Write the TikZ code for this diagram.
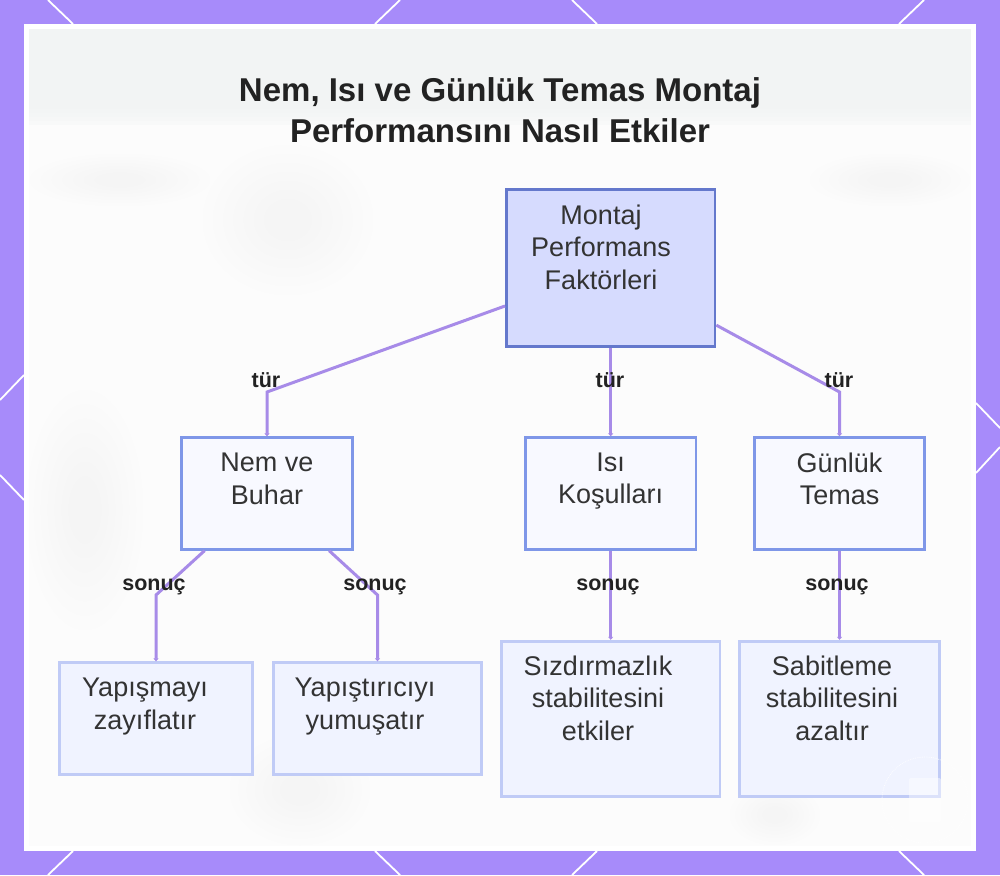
\documentclass[tikz,border=0pt]{standalone}
\usepackage{fontspec}
\setmainfont{Liberation Sans}
\usepackage{xcolor}
\usetikzlibrary{arrows.meta}
\definecolor{Frame}{HTML}{A78BFA}
\definecolor{Panel}{HTML}{FCFCFC}
\definecolor{Band}{HTML}{F2F4F4}
\definecolor{Smudge}{HTML}{EEEEE8}
\definecolor{Ink}{HTML}{222222}
\definecolor{BodyInk}{HTML}{333333}
\definecolor{Edge}{HTML}{A78BE8}
\definecolor{RootFill}{HTML}{D6DBFE}
\definecolor{RootLine}{HTML}{6478CC}
\definecolor{TypeFill}{HTML}{F8F9FF}
\definecolor{TypeLine}{HTML}{7F97E8}
\definecolor{ResultFill}{HTML}{F0F3FF}
\definecolor{ResultLine}{HTML}{C0CBF6}
\tikzset{
  rootbox/.style={draw=RootLine,fill=RootFill,line width=2.8pt,inner sep=0pt,minimum width=208.5pt,minimum height=156.5pt},
  typebox/.style={draw=TypeLine,fill=TypeFill,line width=2.8pt,inner sep=0pt,minimum width=170.5pt,minimum height=111.5pt},
  resultbox/.style={draw=ResultLine,fill=ResultFill,line width=2.8pt,inner sep=0pt,minimum height=111.5pt},
  boxtext/.style={text=BodyInk,align=center,inner sep=0pt,font=\fontsize{27}{32.5}\selectfont},
  edgelabel/.style={text=Ink,inner sep=0pt,font=\fontsize{21.5}{24}\selectfont\bfseries},
  edgeline/.style={draw=Edge,line width=3pt,-{Triangle[width=5pt,length=3pt]}},
  trim/.style={draw=white,line width=1.8pt}
}
\newcommand{\smudgeat}[3]{%
  \foreach \s in {1,0.88,0.76,0.64,0.52,0.4,0.28}
    \fill[Smudge,opacity=0.045] (#1) ellipse ({#2*\s} and {#3*\s});}
\begin{document}
\begin{tikzpicture}[x=1pt,y=-1pt]
  \useasboundingbox (0,0) rectangle (1000,875);
  % Frame and its white strokes
  \fill[Frame] (0,0) rectangle (1000,875);
  \foreach \xa/\ya/\xb/\yb in {48/0/73/24,400/0/375/24,572/0/597/24,924/0/899/24,
      48/875/73/851,400/875/375/851,572/875/597/851,924/875/899/851,
      0/400/24/375,0/475/24/500,1000/428/976/403,1000/447/976/473}
    \draw[trim] (\xa,\ya) -- (\xb,\yb);
  \fill[white] (24,24) rectangle (976,851);

  % Blurred backdrop
  \fill[Panel] (29,29) rectangle (971,846);
  \foreach \y in {101,105,...,125}
    \fill[Band,opacity=0.3] (29,29) rectangle (971,\y);
  \smudgeat{288,220}{85}{75}
  \smudgeat{120,180}{90}{26}
  \smudgeat{890,180}{80}{26}
  \smudgeat{85,510}{58}{120}
  \smudgeat{300,790}{70}{55}
  \smudgeat{775,815}{45}{30}

  % Title
  \node[text=Ink,align=center,inner sep=0pt,font=\fontsize{33}{41}\selectfont\bfseries] (title) at (500,110)
    {Nem, Isı ve Günlük Temas Montaj\\Performansını Nasıl Etkiler};

  % Boxes
  \node[rootbox] (root) at (610.7,268) {};
  \node[typebox] (nem) at (267,493.5) {};
  \node[typebox] (isi) at (610.7,493.5) {};
  \node[typebox] (gunluk) at (839.5,493.5) {};
  \node[resultbox,minimum width=192.5pt] (yapisma) at (156,718.5) {};
  \node[resultbox,minimum width=208.5pt] (yapistirici) at (377.5,718.5) {};
  \node[resultbox,minimum width=218.5pt,minimum height=155pt] (sizdirma) at (610.7,718.7) {};
  \node[resultbox,minimum width=199.5pt,minimum height=155pt] (sabitleme) at (839.5,718.7) {};

  % Bends
  \coordinate (bendnem) at (267,392);
  \coordinate (bendgunluk) at (839.5,392);
  \coordinate (bendyapisma) at (156,595);
  \coordinate (bendyapistirici) at (377.5,595);

  % Connectors
  \draw[edgeline] (root) -- (bendnem) -- (nem);
  \draw[edgeline] (root) -- (isi);
  \draw[edgeline] (root) -- (bendgunluk) -- (gunluk);
  \draw[edgeline] (nem) -- (bendyapisma) -- (yapisma);
  \draw[edgeline] (nem) -- (bendyapistirici) -- (yapistirici);
  \draw[edgeline] (isi) -- (sizdirma);
  \draw[edgeline] (gunluk) -- (sabitleme);

  % Box texts
  \node[boxtext] (roottext) at (601,247) {Montaj\\Performans\\Faktörleri};
  \node[boxtext] (nemtext) at (267,479) {Nem ve\\Buhar};
  \node[boxtext] (isitext) at (610.7,481) {Isı\\Koşulları};
  \node[boxtext] (gunluktext) at (839.5,479) {Günlük\\Temas};
  \node[boxtext] (yapismatext) at (145,706.5) {Yapışmayı\\zayıflatır};
  \node[boxtext] (yapistiricitext) at (365,706.5) {Yapıştırıcıyı\\yumuşatır};
  \node[boxtext] (sizdirmatext) at (598,698) {Sızdırmazlık\\stabilitesini\\etkiler};
  \node[boxtext] (sabitlemetext) at (832,698) {Sabitleme\\stabilitesini\\azaltır};

  % Edge labels
  \node[edgelabel] (turnem) at (266,380) {tür};
  \node[edgelabel] (turisi) at (610,380) {tür};
  \node[edgelabel] (turgunluk) at (839,380) {tür};
  \node[edgelabel] (sonucyapisma) at (154,587) {sonuç};
  \node[edgelabel] (sonucyapistirici) at (375,587) {sonuç};
  \node[edgelabel] (sonucsizdirma) at (608,587) {sonuç};
  \node[edgelabel] (sonucsabitleme) at (837,587) {sonuç};

  % Watermark
  \draw[white,opacity=0.8,line width=0.8pt,densely dotted] (925,800) circle (43);
  \fill[white,opacity=0.45,rounded corners=2pt] (909,778) rectangle (941,822);
\end{tikzpicture}
\end{document}
